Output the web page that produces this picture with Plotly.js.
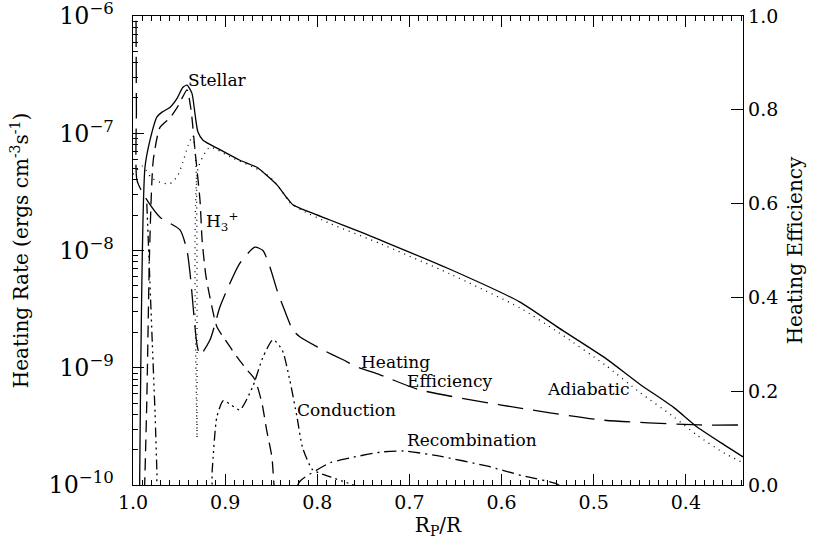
<!DOCTYPE html>
<html>
<head>
<meta charset="utf-8">
<script src="https://cdn.plot.ly/plotly-3.0.1.min.js"></script>
<style>html,body{margin:0;padding:0;background:#fff;}#chart{width:814px;height:551px;}</style>
</head>
<body>
<div id="chart"></div>
<script>
// Heating terms (log10 of heating rate, ergs cm^-3 s^-1) vs Rp/R
const stellarX = [0.993,0.987,0.9816,0.974,0.9685,0.96,0.952,0.946,0.9414,0.936,0.9328,0.9295,0.924,0.9056,0.884,0.8655,0.8547,0.8438,0.833,0.8265,0.8156,0.7863,0.7505,0.732,0.656,0.58,0.538,0.487,0.45,0.413,0.387,0.358,0.338];
const stellarLog = [-10.2,-7.29,-7.06,-6.86,-6.82,-6.78,-6.70,-6.61,-6.59,-6.66,-6.83,-6.99,-7.06,-7.14,-7.23,-7.29,-7.36,-7.44,-7.55,-7.61,-7.65,-7.74,-7.85,-7.91,-8.16,-8.44,-8.66,-8.92,-9.14,-9.34,-9.51,-9.66,-9.76];

const adiabaticX = [1.0,0.99,0.98,0.97,0.96,0.952,0.946,0.94,0.935,0.9315,0.9305,0.9295,0.9165,0.895,0.859,0.848,0.837,0.83,0.816,0.786,0.732,0.656,0.58,0.538,0.487,0.45,0.413,0.387,0.358,0.338];
const adiabaticLog = [-7.35,-7.28,-7.38,-7.42,-7.43,-7.37,-7.25,-7.1,-7.02,-7.3,-9.6,-7.3,-7.12,-7.20,-7.33,-7.40,-7.51,-7.59,-7.66,-7.77,-7.94,-8.20,-8.49,-8.70,-8.98,-9.21,-9.42,-9.58,-9.73,-9.81];

const h3X = [0.988,0.985,0.982,0.978,0.9707,0.96,0.952,0.946,0.9414,0.937,0.9328,0.9273,0.925,0.921,0.9165,0.909,0.9,0.887,0.876,0.8677,0.8601,0.855,0.8493,0.847,0.844];
const h3Log = [-10.2,-9.28,-8.0,-7.23,-6.95,-6.87,-6.78,-6.69,-6.63,-6.80,-7.14,-7.57,-7.91,-8.21,-8.40,-8.65,-8.76,-8.91,-9.02,-9.10,-9.30,-9.53,-9.76,-10.0,-10.3];

const conductionX = [0.985,0.982,0.979,0.976,0.974,0.972,0.918,0.914,0.909,0.902,0.893,0.884,0.870,0.859,0.848,0.838,0.830,0.822,0.816,0.805,0.786,0.768,0.748];
const conductionLog = [-7.6,-8.2,-8.8,-9.4,-9.9,-10.3,-10.3,-9.87,-9.42,-9.28,-9.32,-9.36,-9.16,-8.91,-8.76,-8.85,-9.10,-9.42,-9.68,-9.87,-9.93,-9.98,-10.04];

const recombX = [0.83,0.819,0.80,0.786,0.765,0.732,0.706,0.67,0.615,0.578,0.538,0.53];
const recombLog = [-10.2,-9.97,-9.87,-9.81,-9.77,-9.72,-9.71,-9.75,-9.84,-9.92,-10.0,-10.1];

// Heating efficiency (right axis)
const effX = [0.9967,0.9963,0.9957,0.987,0.9707,0.949,0.9414,0.938,0.9306,0.9273,0.9165,0.9056,0.898,0.884,0.8677,0.859,0.8514,0.8438,0.837,0.8265,0.819,0.794,0.772,0.757,0.732,0.689,0.602,0.4935,0.385,0.338];
const effY = [0.99,0.80,0.65,0.614,0.571,0.544,0.50,0.45,0.30,0.277,0.309,0.38,0.416,0.473,0.507,0.50,0.465,0.416,0.38,0.33,0.316,0.288,0.267,0.252,0.235,0.203,0.171,0.139,0.128,0.128];

const labels = ["Stellar","H<sub>3</sub><sup>+</sup>","Heating","Efficiency","Adiabatic","Conduction","Recombination"];

const pow = a => a.map(v => Math.pow(10, v));
const ln = {color:'#000', width:1.3};

const traces = [
  {x: stellarX, y: pow(stellarLog), mode:'lines', line:Object.assign({}, ln, {dash:'solid'})},
  {x: adiabaticX, y: pow(adiabaticLog), mode:'lines', line:Object.assign({}, ln, {dash:'1px,5px'})},
  {x: h3X, y: pow(h3Log), mode:'lines', line:Object.assign({}, ln, {dash:'12px,7px'})},
  {x: conductionX, y: pow(conductionLog), mode:'lines', line:Object.assign({}, ln, {dash:'10px,4px,2px,4px,2px,4px,2px,4px'})},
  {x: recombX, y: pow(recombLog), mode:'lines', line:Object.assign({}, ln, {dash:'12px,5px,2px,5px'})},
  {x: effX, y: effY, yaxis:'y2', mode:'lines', line:Object.assign({}, ln, {dash:'26px,10px'})}
];
traces.forEach(t => { t.line.shape = 'spline'; t.line.smoothing = 0.6; t.hoverinfo = 'skip'; t.showlegend = false; });

const tf = {family:'DejaVu Serif, serif', size:19, color:'#000'};
const ttf = {family:'DejaVu Serif, serif', size:20, color:'#000'};
const af = {family:'DejaVu Serif, serif', size:17, color:'#000'};
const px = p => (p - 133) / 610;
const py = p => (485 - p) / 469;

const layout = {
  width:814, height:551,
  margin:{l:133, r:71, t:16, b:66},
  paper_bgcolor:'#fff', plot_bgcolor:'#fff',
  showlegend:false,
  xaxis:{
    range:[1.0, 0.338], tickvals:[1.0,0.9,0.8,0.7,0.6,0.5,0.4], tickformat:'.1f',
    ticks:'inside', ticklen:11, tickwidth:1, tickcolor:'#000',
    minor:{ticks:'inside', ticklen:5, dtick:0.01, tickcolor:'#000'},
    showline:true, linecolor:'#000', linewidth:1.3, mirror:'ticks',
    showgrid:false, zeroline:false, tickfont:tf, ticklabelstandoff:0,
    title:{text:'R<sub>P</sub>/R', font:ttf, standoff:2}
  },
  yaxis:{
    type:'log', range:[-10,-6], dtick:1, exponentformat:'power',
    ticks:'inside', ticklen:11, tickcolor:'#000',
    minor:{ticks:'inside', ticklen:5, dtick:'D1', tickcolor:'#000'},
    showline:true, linecolor:'#000', linewidth:1.3,
    showgrid:false, zeroline:false, tickfont:tf, ticklabelstandoff:14,
    ticklabeloverflow:'allow',
    title:{text:'Heating Rate (ergs cm<sup>-3</sup>s<sup>-1</sup>)', font:ttf, standoff:14}
  },
  yaxis2:{
    overlaying:'y', side:'right', range:[0,1], tickvals:[0,0.2,0.4,0.6,0.8,1.0], tickformat:'.1f',
    ticks:'inside', ticklen:12, tickcolor:'#000',
    showline:true, linecolor:'#000', linewidth:1.3,
    showgrid:false, zeroline:false, tickfont:tf, ticklabeloverflow:'allow',
    title:{text:'Heating Efficiency', font:ttf, standoff:10}
  },
  annotations:[
    {text:labels[0], x:px(186), y:py(80), xref:'paper', yref:'paper', xanchor:'left', yanchor:'middle', showarrow:false, font:af},
    {text:labels[1], x:px(204), y:py(221), xref:'paper', yref:'paper', xanchor:'left', yanchor:'middle', showarrow:false, font:af},
    {text:labels[2], x:px(359), y:py(362), xref:'paper', yref:'paper', xanchor:'left', yanchor:'middle', showarrow:false, font:af},
    {text:labels[3], x:px(405), y:py(381), xref:'paper', yref:'paper', xanchor:'left', yanchor:'middle', showarrow:false, font:af},
    {text:labels[4], x:px(545), y:py(389), xref:'paper', yref:'paper', xanchor:'left', yanchor:'middle', showarrow:false, font:af},
    {text:labels[5], x:px(295), y:py(410), xref:'paper', yref:'paper', xanchor:'left', yanchor:'middle', showarrow:false, font:af},
    {text:labels[6], x:px(405), y:py(440), xref:'paper', yref:'paper', xanchor:'left', yanchor:'middle', showarrow:false, font:af}
  ]
};

Plotly.newPlot('chart', traces, layout, {staticPlot:true, displayModeBar:false});
</script>
</body>
</html>
